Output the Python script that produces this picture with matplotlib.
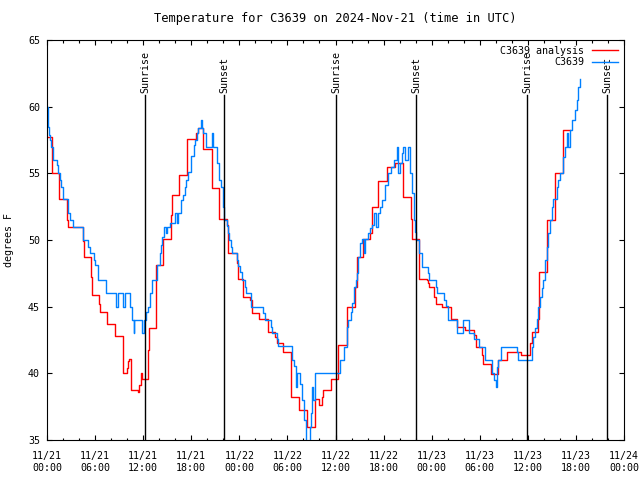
import matplotlib
matplotlib.use("Agg")
from matplotlib import pyplot as plt

# horas desde 11/21 00:00 UTC y temperatura (F)
red_h = [0, 0.58, 1.5, 2.46, 2.67, 4.54, 4.67, 5.5, 5.67, 6.54, 6.62, 7.54, 8.5, 9.54, 9.96,
         10.1, 10.25, 10.5, 11.4, 11.5, 11.7, 11.9, 12.56, 12.73, 13.56, 14.5, 15.43, 15.56,
         16.5, 17.5, 18.6, 18.8, 19.5, 20.55, 21.5, 22.4, 22.55, 23.67, 23.8, 23.87, 24.5,
         25.33, 25.54, 26.5, 27.53, 28.45, 28.66, 29.5, 30.45, 31.45, 32.5, 33.5, 33.98,
         34.27, 34.48, 35.4, 36.35, 37.4, 38.43, 38.64, 39.47, 40.3, 40.5, 41.34, 42.38,
         43.42, 44.46, 45.4, 45.5, 46.42, 47.37, 47.5, 47.66, 48.33, 48.5, 49.33, 50.41,
         51.12, 52.16, 53.32, 53.49, 54.32, 54.45, 55.4, 56.32, 57.36, 59.2, 60.27, 60.48,
         61.3, 61.44, 62.35, 63.4, 64.4, 65.3]
red_t = [57.75, 55, 53.1, 51.5, 50.95, 49.9, 48.7, 47.25, 45.9, 45.2, 44.6, 43.7, 42.8, 40, 40.4,
         40.9, 41.05, 38.75, 38.6, 39.1, 40, 39.6, 41.75, 43.4, 48.1, 50.1, 51.9, 53.4,
         54.9, 57.6, 58, 58.4, 56.8, 53.9, 51.6, 51.1, 49.05, 48.25, 47.5, 47.1, 45.75,
         45.5, 44.5, 44.1, 43.1, 42.75, 42.25, 41.6, 38.25, 37.25, 36, 38.1, 37.6,
         38.25, 38.75, 39.6, 42.1, 45, 46.5, 48.75, 50.1, 50.5, 52.45, 54.4, 55.45,
         55.75, 53.2, 51.6, 50.1, 47.1, 47, 46.75, 46.5, 45.75, 45.2, 44.95, 44.1,
         43.5, 43.25, 42.9, 41.95, 41.4, 40.7, 39.95, 41, 41.6, 41.4, 42.25, 43.1,
         44.1, 47.6, 51.5, 55, 58.25, 58.25]

blue_h = [0, 0.1, 0.25, 0.4, 0.5, 0.7, 1.2, 1.33, 1.65, 1.8, 2.0, 2.6, 2.85, 3.3, 4.46, 5.17,
          5.38, 5.88, 6.0, 6.33, 6.42, 7.3, 8.6, 8.8, 9.54, 9.75, 10.4, 10.6, 10.8, 10.9,
          11.9, 12.1, 12.4, 12.6, 12.85, 13.15, 13.7, 14.1, 14.2, 14.4, 14.6, 14.8, 15.0,
          15.35, 16.0, 16.2, 16.35, 16.7, 17.0, 17.2, 17.4, 17.6, 17.95, 18.3, 18.5, 18.7,
          18.9, 19.2, 19.35, 19.5, 19.9, 20.55, 20.75, 21.2, 21.5, 21.7, 21.9, 22.1, 22.4,
          22.54, 22.71, 22.96, 23.04, 23.67, 23.87, 24.08, 24.29, 24.7, 24.79, 25.45, 27.0,
          27.2, 27.95, 28.12, 28.66, 28.87, 30.53, 30.86, 31.03, 31.15, 31.57, 31.78, 32.07,
          32.32, 32.82, 32.94, 33.11, 33.23, 33.44, 36.56, 37.1, 37.4, 37.6, 37.9, 38.1,
          38.35, 38.5, 38.64, 38.85, 39.06, 39.26, 39.5, 39.7, 40.1, 40.3, 40.5, 40.84,
          41.1, 41.3, 41.55, 41.76, 42.2, 42.6, 42.9, 43.34, 43.63, 43.84, 44.05, 44.34,
          44.46, 44.67, 45.1, 45.3, 45.6, 45.84, 45.92, 46.1, 46.42, 46.83, 47.5, 47.66,
          48.5, 48.62, 49.58, 49.75, 50.08, 51.12, 51.95, 52.66, 53.32, 53.9, 54.65, 55.57,
          55.82, 55.98, 56.1, 56.3, 56.65, 58.6, 58.8, 60.48, 60.69, 60.9, 61.1, 61.3,
          61.52, 61.73, 61.94, 62.15, 62.35, 62.56, 62.77, 62.98, 63.19, 63.6, 63.81,
          64.02, 64.43, 64.64, 64.85, 65.06, 65.27, 65.47, 65.89, 66.1, 66.3, 66.5]
blue_t = [60, 58.5, 57.9, 57.5, 57, 56, 55.6, 55, 54.5, 54, 53.1, 52, 51.5, 51, 50, 49.5,
          49, 48.5, 48.1, 47.5, 47, 46, 45, 46, 45, 46, 45, 44, 43, 44,
          43, 44, 44.6, 45, 46, 47, 48.1, 49, 49.6, 50.25, 51, 50.5, 51,
          51.25, 52, 51.25, 52, 53, 53.4, 54, 54.5, 55.1, 56.3, 57.1, 57.5, 58,
          58.4, 59, 58.4, 58, 57, 58, 57, 55.75, 54.5, 54, 52.5, 51.5, 51.05,
          50.5, 50, 49.5, 49.05, 48.5, 48.05, 47.6, 47, 46.45, 46, 45, 44.5,
          44, 43.5, 43, 42.55, 42.05, 41, 40.55, 39, 40, 39.2, 38, 36.5,
          34.5, 36, 37, 39, 38, 40, 41, 42, 43.5, 44, 44.6, 45.25,
          46.5, 47, 47.5, 48.75, 49.75, 50.1, 49, 50.1, 50.5, 50.9, 51.1, 52,
          51, 52, 52.5, 53, 54.1, 55, 55.5, 56, 57, 55, 55.75, 56.5,
          57, 56, 57, 55, 53.5, 51.5, 50.6, 50, 49, 48, 47.5, 47,
          46.5, 46.05, 45.5, 45.05, 44, 43, 44, 43, 42.6, 42, 41, 40,
          39.5, 39, 40.5, 41, 42, 41.6, 41, 42, 42.75, 43.4, 44.1, 45,
          45.75, 46.4, 47, 48.5, 49.5, 50.55, 51.5, 52.5, 53.1, 54, 54.5,
          55, 56.25, 57, 58, 57, 58.25, 59, 59.75, 60.5, 61.5, 62.1]

sun_h = [12.23, 22.09, 36.06, 46.04, 59.9, 69.9]
sun_lbl = ["Sunrise", "Sunset", "Sunrise", "Sunset", "Sunrise", "Sunset"]

xt = list(range(0, 73, 6))
xt_lbl = ["11/21\n00:00", "11/21\n06:00", "11/21\n12:00", "11/21\n18:00",
          "11/22\n00:00", "11/22\n06:00", "11/22\n12:00", "11/22\n18:00",
          "11/23\n00:00", "11/23\n06:00", "11/23\n12:00", "11/23\n18:00",
          "11/24\n00:00"]

plt.rcParams["font.family"] = "DejaVu Sans Mono"
plt.rcParams["font.size"] = 7.2

fig = plt.figure(figsize=(6.4, 4.8), dpi=100)
ax = fig.add_axes([47 / 640, 40 / 480, 577 / 640, 400 / 480])

ax.step(red_h, red_t, where="post", color="#ff0000", lw=1.0, label="C3639 analysis")
ax.step(blue_h, blue_t, where="post", color="#0080ff", lw=1.0, label="C3639")

for h, s in zip(sun_h, sun_lbl):
    ax.plot([h, h], [35, 60.9], color="black", lw=1.0)
    ax.text(h, 61.05, s, rotation=90, ha="center", va="bottom")

ax.set_xlim(0, 72)
ax.set_ylim(35, 65)
ax.set_xticks(xt)
ax.set_xticklabels(xt_lbl)
ax.set_xticks(range(0, 73, 2), minor=True)
ax.set_yticks(range(35, 66, 5))
ax.tick_params(which="both", direction="in", top=True, right=True, width=0.8)
ax.tick_params(which="major", length=3.6)
ax.tick_params(axis="x", which="major", pad=8)
ax.tick_params(axis="y", which="major", pad=5)
ax.tick_params(which="minor", length=1.8)
for sp in ax.spines.values():
    sp.set_linewidth(0.8)

ax.set_ylabel("degrees F", labelpad=10)
ax.set_title("Temperature for C3639 on 2024-Nov-21 (time in UTC)", pad=13)
ax.legend(loc="upper right", markerfirst=False, frameon=False, handlelength=2.6,
          handletextpad=0.8, borderaxespad=0.2, labelspacing=0.15)

plt.savefig("out.png")
